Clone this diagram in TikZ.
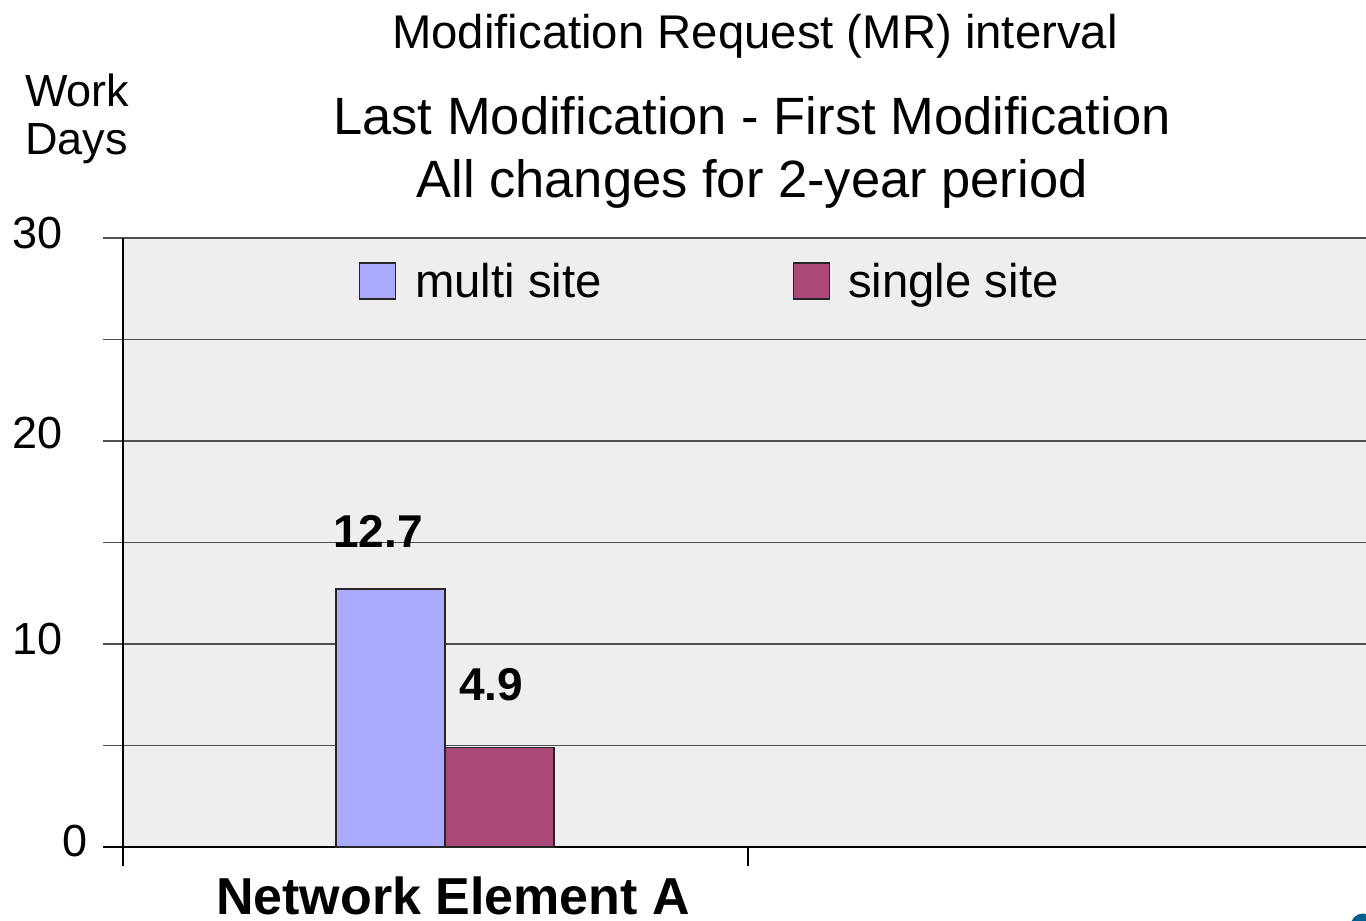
\documentclass[tikz,border=0pt]{standalone}
\usepackage{fontspec}
\setmainfont{Liberation Sans}
\definecolor{plotbg}{RGB}{238,238,238}
\definecolor{gridgray}{RGB}{80,80,80}
\definecolor{multiblue}{RGB}{170,170,255}
\definecolor{singlered}{RGB}{170,72,119}
\definecolor{dotblue}{RGB}{0,94,140}

\begin{document}
\begin{tikzpicture}[x=1pt, y=-1pt,
        txt/.style={inner sep=0pt, font=\fontsize{47.3}{56}\selectfont},
        bigtxt/.style={inner sep=0pt, font=\fontsize{52.5}{63}\selectfont},
        valtxt/.style={inner sep=0pt, font=\fontsize{46}{55}\selectfont\bfseries},
        ticktxt/.style={inner sep=0pt, font=\fontsize{45}{54}\selectfont},
        grid/.style={draw=gridgray, line width=1.4pt},
        axis/.style={draw=black, line width=1.8pt},
        bar/.style={draw=black!85, line width=1.6pt},
        legbox/.style={draw=black!85, line width=1.6pt, minimum size=36pt, inner sep=0pt}
      ]
        \clip (0,0) rectangle (1366,921);
        \useasboundingbox (0,0) rectangle (1366,921);
        % plot area
        \fill[plotbg] (123,238) rectangle (1366,847);
        \foreach \v in {5,10,...,30}
          \draw[grid] (103,{847-\v*20.3}) -- (1366,{847-\v*20.3});
        \draw[axis] (103,847) -- (1366,847);
        \draw[axis] (123,238) -- (123,866);
        \draw[axis, line width=1.4pt] (748,847) -- (748,866);
        % bars
        \draw[bar, fill=multiblue] (336,847) rectangle (445,{847-12.7*20.3});
        \draw[bar, fill=singlered] (445,847) rectangle (554,{847-4.9*20.3});
        \node[valtxt, anchor=base] (vmulti) at (378,547) {12.7};
        \node[valtxt, anchor=base] (vsingle) at (491,700) {4.9};
        % legend
        \node[legbox, fill=multiblue] (keymulti) at (377.5,281) {};
        \node[txt, anchor=base west] (labmulti) at (415,297) {multi site};
        \node[legbox, fill=singlered] (keysingle) at (811.5,281) {};
        \node[txt, anchor=base west] (labsingle) at (848,297) {single site};
        % titles
        \node[txt, anchor=base] (mr) at (755,48) {Modification Request (MR) interval};
        \node[bigtxt, anchor=base] (lastfirst) at (752,134) {Last Modification - First Modification};
        \node[bigtxt, anchor=base] (period) at (752,197) {All changes for 2-year period};
        % axis labels
        \node[ticktxt, anchor=base west] (work) at (25,106) {Work};
        \node[ticktxt, anchor=base west] (days) at (25,154) {Days};
        \node[ticktxt, anchor=base east] (t30) at (63,248) {30};
        \node[ticktxt, anchor=base east] (t20) at (63,448) {20};
        \node[ticktxt, anchor=base east] (t10) at (63,654) {10};
        \node[ticktxt, anchor=base east] (t0) at (88,856) {0};
        \node[bigtxt, anchor=base, font=\fontsize{52}{62}\selectfont\bfseries] (cat) at (453,914) {Network Element A};
        % corner dot
        \fill[dotblue] (1363,926) circle (12.5);
      \end{tikzpicture}
\end{document}
